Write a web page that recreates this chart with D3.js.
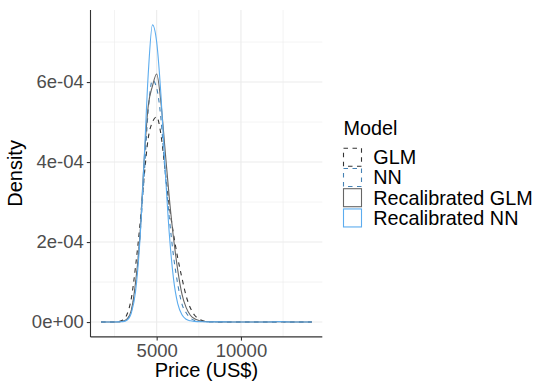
<!DOCTYPE html>
<html>
<head>
<meta charset="utf-8">
<script src="https://cdn.jsdelivr.net/npm/d3@7"></script>
<style>
  html, body { margin: 0; padding: 0; background: #fff; }
  svg { display: block; font-family: "Liberation Sans", Arial, sans-serif; }
</style>
</head>
<body>
<svg id="chart" width="536" height="383"></svg>
<script>
// ---- data ----
const priceGrid = [1700, 2500, 2750, 3000, 3250, 3500, 3750, 4000, 4250, 4500, 4750, 5000, 5250, 5500, 5750, 6000, 6250, 6500, 6750, 7000, 7250, 7500, 7750, 8000, 8500, 9000, 10000, 11000, 12000, 12300, 12600, 13000, 14200];

const glmDensity  = [0, 0, 1e-6, 5e-6, 2e-5, 6e-5, 1.4e-4, 2.4e-4, 3.6e-4, 4.6e-4, 5.0e-4, 5.13e-4, 4.7e-4, 3.8e-4, 2.9e-4, 2.2e-4, 1.6e-4, 1.1e-4, 6.5e-5, 3.5e-5, 1.7e-5, 8e-6, 3e-6, 1.5e-6, 5e-7, 3e-7, 2e-7, 2e-7, 3e-7, 8e-7, 3e-7, 2e-7, 0];
const nnDensity   = [0, 0, 5e-7, 2e-6, 7e-6, 2.8e-5, 9e-5, 2.1e-4, 3.6e-4, 5.3e-4, 6.05e-4, 5.85e-4, 5.1e-4, 3.75e-4, 2.6e-4, 1.65e-4, 9.5e-5, 4.5e-5, 2.3e-5, 1e-5, 4e-6, 2e-6, 1.2e-6, 1e-6, 5e-7, 3e-7, 2e-7, 2e-7, 3e-7, 8e-7, 3e-7, 2e-7, 0];
const rglmDensity = [0, 0, 5e-7, 2e-6, 8e-6, 3e-5, 1.0e-4, 2.1e-4, 4.0e-4, 5.4e-4, 5.9e-4, 6.2e-4, 5.5e-4, 4.3e-4, 3.1e-4, 2.1e-4, 1.3e-4, 7e-5, 3.6e-5, 1.7e-5, 8e-6, 4e-6, 2e-6, 1e-6, 5e-7, 3e-7, 2e-7, 2e-7, 3e-7, 8e-7, 3e-7, 2e-7, 0];
const rnnDensity  = [0, 0, 5e-7, 1e-6, 5e-6, 2.3e-5, 7.7e-5, 2.0e-4, 4.0e-4, 6.2e-4, 7.43e-4, 7.0e-4, 5.7e-4, 3.85e-4, 2.2e-4, 1.08e-4, 4.6e-5, 1.8e-5, 7e-6, 3e-6, 1.5e-6, 1e-6, 7e-7, 5e-7, 3e-7, 3e-7, 2e-7, 2e-7, 3e-7, 1e-6, 3e-7, 2e-7, 0];

const models = ["GLM", "NN", "Recalibrated GLM", "Recalibrated NN"];
const modelColors = ["#333333", "#4682B4", "#666666", "#5CACEE"];
const modelDash = ["4.5,4.5", "4.5,4.5", null, null];

const xTicks = [5000, 10000];
const xTickLabels = ["5000", "10000"];
const xMinorTicks = [2500, 7500, 12500];
const yTicks = [0, 2e-4, 4e-4, 6e-4];
const yTickLabels = ["0e+00", "2e-04", "4e-04", "6e-04"];
const yMinorTicks = [1e-4, 3e-4, 5e-4, 7e-4];

// ---- chart ----
const svg = d3.select("#chart");
const seriesValues = [glmDensity, nnDensity, rglmDensity, rnnDensity];

const xExt = d3.extent(priceGrid);
const xPad = (xExt[1] - xExt[0]) * 0.05;
const yMax = d3.max(seriesValues.flat());
const yPad = yMax * 0.05;

const panel = { left: 90.5, right: 322.3, top: 10, bottom: 336.9 };

const x = d3.scaleLinear().domain([xExt[0] - xPad, xExt[1] + xPad]).range([panel.left, panel.right]);
const y = d3.scaleLinear().domain([-yPad, yMax + yPad]).range([panel.bottom, panel.top]);

// grid
const grid = svg.append("g");
grid.selectAll(".xminor").data(xMinorTicks).join("line")
  .attr("x1", d => x(d)).attr("x2", d => x(d))
  .attr("y1", panel.top).attr("y2", panel.bottom)
  .attr("stroke", "#EBEBEB").attr("stroke-width", 0.6);
grid.selectAll(".yminor").data(yMinorTicks).join("line")
  .attr("y1", d => y(d)).attr("y2", d => y(d))
  .attr("x1", panel.left).attr("x2", panel.right)
  .attr("stroke", "#EBEBEB").attr("stroke-width", 0.6);
grid.selectAll(".xmajor").data(xTicks).join("line")
  .attr("x1", d => x(d)).attr("x2", d => x(d))
  .attr("y1", panel.top).attr("y2", panel.bottom)
  .attr("stroke", "#EBEBEB").attr("stroke-width", 1.1);
grid.selectAll(".ymajor").data(yTicks).join("line")
  .attr("y1", d => y(d)).attr("y2", d => y(d))
  .attr("x1", panel.left).attr("x2", panel.right)
  .attr("stroke", "#EBEBEB").attr("stroke-width", 1.1);

// lines
const line = d3.line()
  .x((d, i) => x(priceGrid[i]))
  .y(d => y(d))
  .curve(d3.curveMonotoneX);

seriesValues.forEach((vals, k) => {
  svg.append("path")
    .attr("d", line(vals))
    .attr("fill", "none")
    .attr("stroke", modelColors[k])
    .attr("stroke-width", 1.1)
    .attr("stroke-dasharray", modelDash[k]);
});

// axes
const xAxis = svg.append("g")
  .attr("transform", `translate(0,${panel.bottom})`)
  .call(d3.axisBottom(x).tickValues(xTicks).tickFormat((d, i) => xTickLabels[i]).tickSize(3.7).tickPadding(3));
const yAxis = svg.append("g")
  .attr("transform", `translate(${panel.left},0)`)
  .call(d3.axisLeft(y).tickValues(yTicks).tickFormat((d, i) => yTickLabels[i]).tickSize(3.7).tickPadding(3));

[xAxis, yAxis].forEach(a => {
  a.select(".domain").attr("stroke", "#333333").attr("stroke-width", 1.1);
  a.selectAll(".tick line").attr("stroke", "#333333").attr("stroke-width", 1.1);
  a.selectAll(".tick text").attr("fill", "#4D4D4D").attr("font-size", "18.5px")
    .attr("font-family", "'Liberation Sans', Arial, sans-serif");
});
xAxis.select(".domain").attr("d", `M${panel.left},0H${panel.right}`);
yAxis.select(".domain").attr("d", `M0,${panel.top}V${panel.bottom}`);

// axis titles
svg.append("text")
  .attr("x", (panel.left + panel.right) / 2)
  .attr("y", 377)
  .attr("text-anchor", "middle")
  .attr("font-size", "20px")
  .attr("fill", "#000")
  .text("Price (US$)");
svg.append("text")
  .attr("transform", `translate(21.5,${(panel.top + panel.bottom) / 2}) rotate(-90)`)
  .attr("text-anchor", "middle")
  .attr("font-size", "20px")
  .attr("fill", "#000")
  .text("Density");

// legend
const legend = svg.append("g");
legend.append("text")
  .attr("x", 343.5).attr("y", 135)
  .attr("font-size", "19.8px").attr("fill", "#000")
  .text("Model");
const rowY = d3.scaleLinear().domain([0, 1]).range([157.2, 177.45]);
models.forEach((m, k) => {
  const cy = rowY(k);
  legend.append("rect")
    .attr("x", 343.5).attr("y", cy - 9)
    .attr("width", 18).attr("height", 18)
    .attr("fill", "none")
    .attr("stroke", modelColors[k])
    .attr("stroke-width", 1.1)
    .attr("stroke-dasharray", modelDash[k]);
  legend.append("text")
    .attr("x", 373.3).attr("y", cy + 7)
    .attr("font-size", "19.8px").attr("fill", "#000")
    .text(m);
});
</script>
</body>
</html>
